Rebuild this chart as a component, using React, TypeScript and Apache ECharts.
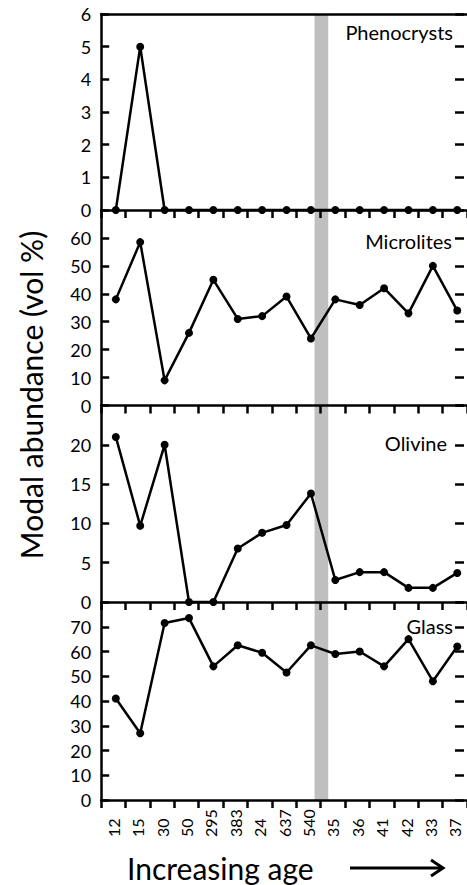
import React, { useEffect, useRef } from "react";
import * as echarts from "echarts";

const categories = ["12", "15", "30", "50", "295", "383", "24", "637", "540", "35", "36", "41", "42", "33", "37"];
const phenocrysts = [0, 5, 0, 0, 0, 0, 0, 0, 0, 0, 0, 0, 0, 0, 0];
const microlites = [38, 58.5, 9, 26, 45, 31, 32, 39, 24, 38, 36, 42, 33, 50, 34];
const olivine = [21, 9.7, 20, 0, 0, 6.8, 8.8, 9.8, 13.8, 2.8, 3.8, 3.8, 1.8, 1.8, 3.7];
const glass = [41, 27, 71.5, 73.5, 54, 62.5, 59.5, 51.5, 62.5, 59, 60, 54, 65, 48, 62];

const panelNames = ["Phenocrysts", "Microlites", "Olivine", "Glass"];
const panelValues = [phenocrysts, microlites, olivine, glass];
const yMax = [6, 70, 25, 80];
const yInterval = [1, 10, 5, 10];
const bandRange = [8.15, 8.71];

const FONT = "Lato";

export default function App() {
  const ref = useRef<HTMLDivElement>(null);
  useEffect(() => {
    if (!ref.current) return;
    const chart = echarts.init(ref.current, null, { renderer: "svg" });
    const tops = [14, 210, 405.5, 602];
    const heights = [196, 195.5, 196.5, 198];
    const left = 101.2;
    const width = 369.6;
    const grids = tops.map((t, i) => ({ left, top: t, width, height: heights[i] }));
    const xAxis: any[] = [];
    const yAxis: any[] = [];
    const series: any[] = [];
    const graphic: any[] = [];
    const labelRight = [453, 452, 447, 453];
    const labelY = [32, 241, 443, 626];

    for (let i = 0; i < 4; i++) {
      xAxis.push({
        gridIndex: i,
        type: "category",
        position: "bottom",
        data: categories,
        boundaryGap: true,
        z: 10,
        axisLine: { show: true, onZero: false, lineStyle: { color: "#000", width: 2.5 } },
        axisTick: { show: true, inside: false, length: 8, interval: 0, lineStyle: { color: "#000", width: 2.5 } },
        axisLabel:
          i === 3
            ? { show: true, interval: 0, rotate: 90, align: "left", margin: 37, fontFamily: FONT, fontSize: 16, color: "#000" }
            : { show: false },
        splitLine: { show: false },
      });
      xAxis.push({
        gridIndex: i,
        type: "value",
        min: -0.6,
        max: 14.4,
        show: false,
        axisLine: { onZero: false },
      });
      yAxis.push({
        gridIndex: i,
        type: "value",
        position: "left",
        min: 0,
        max: yMax[i],
        interval: yInterval[i],
        z: 10,
        axisLine: { show: true, onZero: false, lineStyle: { color: "#000", width: 2.5 } },
        axisTick: { show: true, inside: true, length: 8, lineStyle: { color: "#000", width: 2.5 } },
        axisLabel: {
          show: true,
          margin: 10,
          fontFamily: FONT,
          fontSize: 18,
          color: "#000",
          showMaxLabel: i === 0,
        },
        splitLine: { show: false },
      });
      yAxis.push({
        gridIndex: i,
        type: "value",
        position: "right",
        offset: -3,
        min: 0,
        max: yMax[i],
        interval: yInterval[i],
        axisLine: { show: false, onZero: false },
        axisTick: { show: true, inside: true, length: 9, lineStyle: { color: "#000", width: 2.5 } },
        axisLabel: { show: false },
        splitLine: { show: false },
      });
      series.push({
        type: "line",
        xAxisIndex: 2 * i + 1,
        yAxisIndex: 2 * i,
        data: panelValues[i].map((v, k) => [k, v]),
        symbol: "circle",
        symbolSize: 8,
        clip: false,
        z: 5,
        itemStyle: { color: "#000" },
        lineStyle: { color: "#000", width: 2.5 },
        markArea: {
          silent: true,
          z: 1,
          itemStyle: { color: "#bfbfbf", opacity: 1 },
          data: [[{ xAxis: bandRange[0] }, { xAxis: bandRange[1] }]],
        },
      });
      graphic.push({
        type: "text",
        x: labelRight[i],
        y: labelY[i],
        z: 20,
        style: {
          text: panelNames[i],
          fontFamily: FONT,
          fontSize: 20,
          fill: "#000",
          textAlign: "right",
          textVerticalAlign: "middle",
        },
      });
    }
    xAxis.push({
      gridIndex: 0,
      type: "category",
      position: "top",
      data: categories,
      z: 10,
      axisLine: { show: true, onZero: false, lineStyle: { color: "#000", width: 2.5 } },
      axisTick: { show: false },
      axisLabel: { show: false },
      splitLine: { show: false },
    });

    graphic.push({
      type: "text",
      x: 31,
      y: 395,
      rotation: Math.PI / 2,
      style: {
        text: "Modal abundance (vol %)",
        fontFamily: FONT,
        fontSize: 30,
        fill: "#000",
        textAlign: "center",
        textVerticalAlign: "middle",
      },
    });
    graphic.push({
      type: "text",
      x: 127,
      y: 868,
      style: {
        text: "Increasing age",
        fontFamily: FONT,
        fontSize: 30,
        fill: "#000",
        textAlign: "left",
        textVerticalAlign: "middle",
      },
    });
    graphic.push({
      type: "line",
      shape: { x1: 350, y1: 868, x2: 441, y2: 868 },
      style: { stroke: "#000", lineWidth: 3 },
    });
    graphic.push({
      type: "polyline",
      shape: { points: [[431, 860], [443, 868], [431, 876]] },
      style: { stroke: "#000", lineWidth: 3, fill: null },
    });

    chart.setOption({
      animation: false,
      textStyle: { fontFamily: FONT },
      grid: grids,
      xAxis,
      yAxis,
      series,
      graphic,
    });
    return () => chart.dispose();
  }, []);
  return (
    <div
      ref={ref}
      style={{ position: "absolute", left: 0, top: 0, width: 467, height: 885, background: "#fff" }}
    />
  );
}
